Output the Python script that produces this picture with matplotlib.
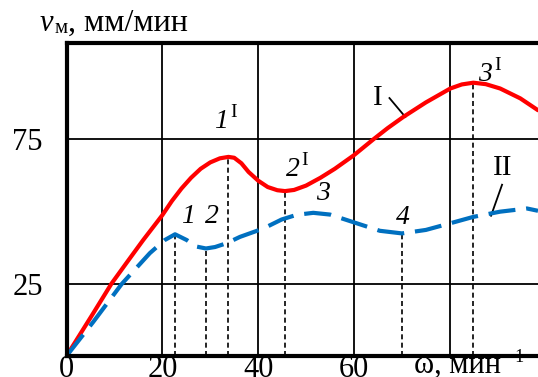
import matplotlib
matplotlib.use('Agg')
import matplotlib.pyplot as plt

plt.rcParams['font.family'] = ['Liberation Serif', 'DejaVu Serif']

# Curve I (red, solid)
x_I = [0, 5.6, 9.4, 12.6, 16.0, 20, 22, 24, 26, 28, 30, 32, 33.8, 35, 36.5, 38, 40, 42, 44,
       45.6, 47.5, 50, 53, 56, 60, 64, 67, 70.3, 75, 80.1, 82.5, 84.9, 87.5, 90.5, 94.7, 98.4]
y_I = [0, 14.8, 25, 32.3, 40, 48.6, 53.5, 57.8, 61.5, 64.6, 66.8, 68.2, 68.7, 68.4, 66.5,
       63.5, 60.5, 58.3, 57.2, 56.9, 57.3, 58.8, 61.5, 64.6, 69.3, 74.7, 78.6, 82.5, 87.5,
       92.3, 93.7, 94.3, 93.8, 92.3, 88.9, 84.8]

# Curve II (blue, dashed)
x_II = [0, 5.6, 11.5, 17.4, 20.5, 22.65, 25.1, 27, 29.1, 31, 33.4, 36.2, 41.1, 44.9, 48,
        51.5, 55, 60, 65.4, 70, 75, 80.1, 84.9, 90.5, 96.1, 98.4]
y_II = [0, 11.8, 24.8, 35.5, 40, 42, 40, 37.8, 37.1, 37.6, 38.9, 41.1, 44, 47.1, 48.7,
        49.4, 48.8, 46.1, 43.2, 42.3, 43.5, 45.8, 48, 49.8, 50.9, 50.1]

# Dotted drop lines at extrema
drop_x = [22.65, 29.1, 33.8, 45.6, 70, 84.9]
drop_y = [42, 37.1, 68.7, 56.9, 42.3, 94.3]

# Point labels (number, superscript, positions)
point_nums = ['1', '2', '1', '2', '3', '4', '3']
point_sups = ['', '', 'I', 'I', '', '', 'I']
label_x = [25.4, 30.4, 32.3, 47.2, 53.6, 70.3, 87.4]
label_y = [48, 48, 81, 64.5, 56, 47.8, 97.1]
sup_dx = 2.5
sup_dy = 3.0

x_ticks = [0, 20, 40, 60, 80]
x_ticklabels = ['0', '20', '40', '60', '']
y_ticks = [25, 75]
y_ticklabels = ['25', '75']

W, H = 538, 377
fig = plt.figure(figsize=(5.38, 3.77), dpi=100)
ax = fig.add_axes([66.5 / W, 21 / H, 471.5 / W, 313 / H])
ax.set_xlim(0, 98.4)
ax.set_ylim(0, 108)

ax.set_xticks(x_ticks)
ax.set_xticklabels(x_ticklabels)
ax.set_yticks(y_ticks)
ax.set_yticklabels(y_ticklabels)
ax.tick_params(axis='both', length=0, labelsize=22)
ax.tick_params(axis='x', pad=-0.5)
ax.tick_params(axis='y', pad=17)
ax.grid(True, color='black', lw=1.3)
ax.set_axisbelow(True)

for s in ['left', 'top', 'bottom']:
    ax.spines[s].set_linewidth(3)
    ax.spines[s].set_zorder(5)
ax.spines['right'].set_visible(False)

ax.vlines(drop_x, 0, drop_y, colors='black', linestyles=(0, (3, 2)), lw=1.2, zorder=2)

ax.plot(x_I, y_I, color='#FF0000', lw=3, zorder=3, solid_capstyle='round')
ax.plot(x_II, y_II, color='#0070C0', lw=3, zorder=3, dashes=(6.5, 2.6))

for n, sp, lx, ly in zip(point_nums, point_sups, label_x, label_y):
    ax.text(lx, ly, n, fontsize=20, style='italic', ha='center', va='center')
    if sp:
        ax.text(lx + sup_dx, ly + sup_dy, sp, fontsize=14, ha='center', va='center')

# Curve identifiers with leader lines
ax.text(65.0, 89, 'I', fontsize=21, ha='center', va='center')
ax.plot([67.4, 70.7], [89, 82.5], color='black', lw=1.3)
ax.text(91.1, 64.8, 'II', fontsize=21, ha='center', va='center')
ax.plot([90.9, 88.6], [59.1, 48.4], color='black', lw=1.3)

# Axis titles
ax.text(81.5, -5.9, 'ω, мин', fontsize=22, ha='center', va='baseline', clip_on=False)
ax.text(91.6, -2.0, '−1', fontsize=13, ha='left', va='baseline', clip_on=False, zorder=1)
fig.text(40 / W, 1 - 31 / H, 'v', fontsize=22, style='italic', ha='left', va='baseline')
fig.text(55 / W, 1 - 33 / H, 'м', fontsize=15, ha='left', va='baseline')
fig.text(67.5 / W, 1 - 31 / H, ', мм/мин', fontsize=23, ha='left', va='baseline')

fig.savefig('out.png', dpi=100)
